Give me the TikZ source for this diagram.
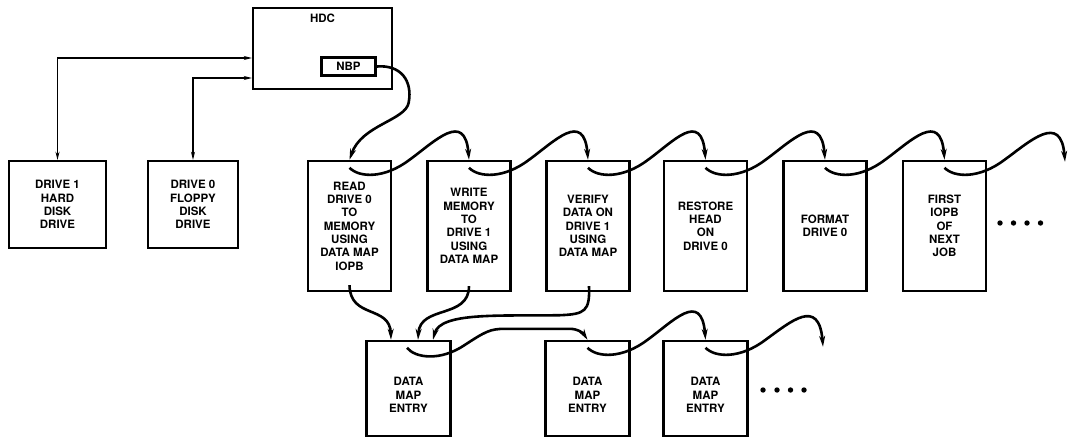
\documentclass[tikz,border=0pt]{standalone}
\usepackage{fontspec}
\newfontfamily\heros{TeX Gyre Heros}
\usetikzlibrary{arrows.meta,calc}

\begin{document}
\begin{tikzpicture}[x=1pt,y=-1pt,
  every node/.style={font=\heros\bfseries\fontsize{11.5}{13.3}\selectfont},
  box/.style={draw,line width=2.4pt,align=center,inner sep=0pt},
  iopb/.style={box,minimum width=83pt,minimum height=130pt},
  dme/.style={box,minimum width=84pt,minimum height=95pt,text height=48pt},
  endpt/.style={inner sep=0pt,minimum size=0pt},
  link/.style={line width=2.6pt,-{Stealth[length=11pt,width=6pt]}},
  wire/.style={line width=1.1pt,{Stealth[length=8pt,width=4pt]}-{Stealth[length=8pt,width=4pt]}}]
\useasboundingbox (0,0) rectangle (1070,439);
% controller and drives
\node[box,minimum width=139pt,minimum height=81pt] (hdc) at (322.5,48.5) {};
\node (hdcl) at (322.5,18) {HDC};
\node[box,minimum width=54pt,minimum height=18pt] (nbp) at (348.5,66.5) {NBP};
\node[box,minimum width=97pt,minimum height=87pt] (d1) at (57.5,204.5) {DRIVE 1\\HARD\\DISK\\DRIVE};
\node[box,minimum width=90pt,minimum height=87pt] (d0) at (193,204.5) {DRIVE 0\\FLOPPY\\DISK\\DRIVE};
\draw[wire] (d1.north) |- ($(hdc.west)+(0,9.5)$);
\draw[wire] (d0.north) |- ($(hdc.west)+(0,29.5)$);
% IOPB chain
\node[iopb] (rd) at (349.5,226) {READ\\DRIVE 0\\TO\\MEMORY\\USING\\DATA MAP\\IOPB};
\node[iopb] (wr) at (469,226) {WRITE\\MEMORY\\TO\\DRIVE 1\\USING\\DATA MAP};
\node[iopb] (vf) at (588,226) {VERIFY\\DATA ON\\DRIVE 1\\USING\\DATA MAP};
\node[iopb] (rs) at (705.5,226) {RESTORE\\HEAD\\ON\\DRIVE 0};
\node[iopb] (fm) at (825,226) {FORMAT\\DRIVE 0};
\node[iopb] (fi) at (944.5,226) {FIRST\\IOPB\\OF\\NEXT\\JOB};
\node[endpt] (iend) at (1065,162) {};
\foreach \x in {1000,1013.5,1027,1040.5} \fill (\x,223) circle (2.7pt);
% data map entries
\node[dme] (dm1) at (408.5,388.5) {DATA\\MAP\\ENTRY};
\node[dme] (dm2) at (587.5,388.5) {DATA\\MAP\\ENTRY};
\node[dme] (dm3) at (705.5,388.5) {DATA\\MAP\\ENTRY};
\node[endpt] (dend) at (823,347) {};
\foreach \x in {763,777,790.5,804} \fill (\x,390) circle (2.7pt);
% pointers
\draw[link] (nbp.east) .. controls ($(nbp.east)+(24,-2)$) and ($(nbp.east)+(36,14)$) .. ($(nbp.east)+(32,36)$)
  .. controls ($(nbp.east)+(29,54)$) and ($(rd.north)+(12,-35)$) .. (rd.north);
\foreach \a/\b in {rd/wr,wr/vf,vf/rs,rs/fm,fm/fi,fi/iend,dm2/dm3,dm3/dend}
  \draw[link] ($(\a.north)+(0,8)$) .. controls ($(\a.north)+(10,18)$) and ($(\a.north)+(35,19)$) .. ($(\a.north)+(60,0)$)
    .. controls ($(\a.north)+(85,-18)$) and ($(\b.north)+(-4,-50)$) .. (\b.north);
\draw[link] ($(rd.south)+(0,-7)$) .. controls ($(rd.south)+(0.5,27)$) and ($(dm1.north)+(-18.5,-35)$) .. ($(dm1.north)+(-17.5,0)$);
\draw[link] ($(wr.south)+(0,-6)$) .. controls ($(wr.south)+(0,27)$) and ($(dm1.north)+(11.5,-35)$) .. ($(dm1.north)+(9.5,0)$);
\draw[link] ($(vf.south)+(1,-6)$) .. controls ($(vf.south)+(2,19)$) and ($(vf.south)+(-3,22)$) .. ($(vf.south)+(-28,23)$)
  .. controls ($(vf.south)+(-88,24)$) and ($(dm1.north)+(31.5,-28)$) .. ($(dm1.north)+(24.5,0)$);
\draw[link] ($(dm1.north)+(-1.5,8)$) .. controls ($(dm1.north)+(6.5,18)$) and ($(dm1.north)+(31.5,22)$) .. ($(dm1.north)+(56.5,5)$)
  .. controls ($(dm1.north)+(76.5,-8)$) and ($(dm1.north)+(81.5,-11)$) .. ($(dm1.north)+(96.5,-11)$)
  -- ($(dm2.north)+(-18,-11)$) .. controls ($(dm2.north)+(-9.5,-11)$) and ($(dm2.north)+(-4.5,-7)$) .. (dm2.north);
\end{tikzpicture}
\end{document}
